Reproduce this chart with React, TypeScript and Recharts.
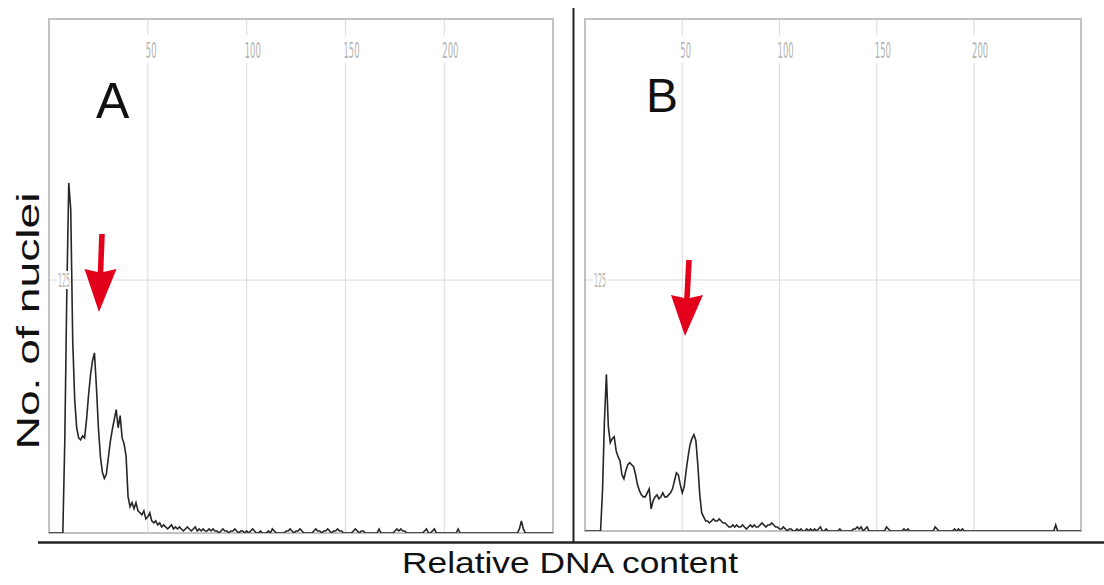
import React from 'react';
import { LineChart, Line, XAxis, YAxis, CartesianGrid, ReferenceArea } from 'recharts';

// flow cytometry histograms, 256 channels each
const channels = Array.from({ length: 256 }, (_, i) => i);

const countsA = [
  0, 0, 0, 0, 0, 0, 0, 0, 46, 118, 173, 160, 95, 66, 52, 47, 46, 48, 47, 56,
  68, 78, 85, 89, 72, 52, 38, 30, 27, 29, 37, 45, 51, 56, 61, 52, 58, 47, 44, 38,
  18, 13, 15, 12, 15, 11, 10, 9, 11, 7, 8, 10, 6, 5, 6, 4, 5, 3, 4, 3,
  2, 3, 4, 2, 3, 2, 3, 2, 1, 2, 3, 2, 1, 2, 3, 1, 2, 1, 2, 1,
  1, 2, 1, 2, 1, 1, 0, 1, 2, 1, 1, 0, 1, 1, 2, 1, 0, 1, 1, 0,
  1, 0, 1, 2, 1, 0, 0, 1, 0, 0, 0, 1, 0, 2, 1, 0, 0, 0, 0, 0,
  1, 1, 2, 1, 0, 1, 1, 2, 1, 0, 0, 0, 0, 0, 1, 2, 1, 1, 0, 1,
  1, 2, 1, 0, 1, 1, 2, 1, 1, 0, 0, 0, 0, 0, 1, 2, 1, 0, 1, 1,
  0, 0, 0, 0, 0, 0, 0, 2, 0, 0, 0, 0, 0, 0, 0, 1, 2, 1, 2, 1,
  1, 0, 0, 0, 0, 0, 0, 0, 0, 0, 1, 2, 0, 0, 1, 2, 0, 0, 0, 0,
  0, 0, 0, 0, 0, 0, 0, 2, 0, 0, 0, 0, 0, 0, 0, 0, 0, 0, 0, 0,
  0, 0, 0, 0, 0, 0, 0, 0, 0, 0, 0, 0, 0, 0, 0, 0, 0, 0, 2, 6,
  2, 0, 0, 0, 0, 0, 0, 0, 0, 0, 0, 0, 0, 0, 0, 0,
];

const countsB = [
  0, 0, 0, 0, 0, 0, 0, 0, 0, 20, 55, 78, 52, 44, 46, 47, 40, 37, 35, 28,
  26, 30, 33, 34, 33, 32, 28, 23, 20, 18, 17, 17, 19, 21, 11, 15, 17, 18, 16, 17,
  19, 17, 17, 18, 19, 21, 25, 29, 28, 23, 19, 22, 30, 37, 43, 46, 48, 45, 33, 18,
  9, 7, 5, 5, 4, 5, 6, 5, 5, 6, 5, 4, 4, 3, 2, 2, 3, 2, 3, 2,
  2, 3, 2, 1, 2, 3, 2, 3, 2, 2, 3, 4, 3, 2, 3, 3, 4, 3, 2, 2,
  1, 1, 2, 1, 0, 1, 1, 0, 0, 1, 0, 1, 0, 0, 1, 0, 1, 0, 1, 0,
  1, 2, 0, 0, 1, 0, 0, 0, 0, 0, 0, 1, 0, 0, 0, 0, 0, 0, 1, 1,
  2, 1, 2, 0, 1, 2, 0, 0, 0, 0, 0, 0, 0, 0, 0, 2, 1, 0, 0, 0,
  0, 0, 0, 0, 1, 0, 1, 0, 0, 0, 0, 0, 0, 0, 0, 0, 0, 0, 0, 0,
  2, 1, 0, 0, 0, 0, 0, 0, 0, 0, 1, 0, 1, 0, 1, 0, 0, 0, 0, 0,
  0, 0, 0, 0, 0, 0, 0, 0, 0, 0, 0, 0, 0, 0, 0, 0, 0, 0, 0, 0,
  0, 0, 0, 0, 0, 0, 0, 0, 0, 0, 0, 0, 0, 0, 0, 0, 0, 0, 0, 0,
  0, 0, 3, 0, 0, 0, 0, 0, 0, 0, 0, 0, 0, 0, 0, 0,
];

const xTicks = [50, 100, 150, 200];
const yTicks = [125];

const dataA = channels.map((ch, i) => ({ ch, n: countsA[i] }));
const dataB = channels.map((ch, i) => ({ ch, n: countsB[i] }));

const TopTick = ({ x, payload }: any) => {
  const label = String(payload.value);
  const w = label.length * 5.4;
  return (
    <g>
      <rect x={x - 3} y={18} width={w + 3} height={28} fill="#fff" />
      <text
        x={x - 2}
        y={41}
        fontSize={21}
        fill="#b4b4b4"
        fontFamily="DejaVu Sans"
        textLength={w}
        lengthAdjust="spacingAndGlyphs"
      >
        {label}
      </text>
    </g>
  );
};

const LeftTick = ({ y, payload }: any) => {
  const label = String(payload.value);
  return (
    <g>
      <rect x={10} y={y - 9} width={14} height={18} fill="#fff" />
      <text
        x={11}
        y={y + 7}
        fontSize={19}
        fill="#b4b4b4"
        fontFamily="DejaVu Sans"
        textLength={12}
        lengthAdjust="spacingAndGlyphs"
      >
        {label}
      </text>
    </g>
  );
};

const Panel = ({ data, width, height, yMax }: any) => (
  <LineChart width={width} height={height} data={data} margin={{ top: 1, right: 2, bottom: 2, left: 1 }}>
    <CartesianGrid stroke="#dadada" strokeWidth={1} />
    <XAxis
      dataKey="ch"
      type="number"
      domain={[0, 255]}
      ticks={xTicks}
      interval={0}
      orientation="top"
      height={1}
      axisLine={false}
      tickLine={false}
      tick={<TopTick />}
      allowDataOverflow
    />
    <YAxis
      type="number"
      domain={[0, yMax]}
      ticks={yTicks}
      interval={0}
      width={1}
      axisLine={false}
      tickLine={false}
      tick={<LeftTick />}
      allowDataOverflow
    />
    <ReferenceArea x1={0} x2={255} y1={0} y2={yMax} fill="none" stroke="#c2c2c2" strokeWidth={2} />
    <Line
      type="linear"
      dataKey="n"
      stroke="#262626"
      strokeWidth={1.6}
      dot={false}
      isAnimationActive={false}
    />
  </LineChart>
);

const arrow = (tx: number, ty: number, px: number, py: number, baseY: number, hw: number) => {
  const sw = 2.8;
  const bx = tx + ((px - tx) * (baseY - ty)) / (py - ty);
  return [
    [tx - sw, ty],
    [bx - sw, baseY],
    [bx - hw, baseY - 3],
    [px, py],
    [bx + hw, baseY - 3],
    [bx + sw, baseY],
    [tx + sw, ty],
  ]
    .map((p) => p.join(','))
    .join(' ');
};

export default function App() {
  return (
    <div style={{ position: 'absolute', left: 0, top: 0, width: 1104, height: 585, background: '#fff', overflow: 'hidden' }}>
      <div style={{ position: 'absolute', left: 47, top: 17 }}>
        <Panel data={dataA} width={508} height={518} yMax={254} />
      </div>
      <div style={{ position: 'absolute', left: 583, top: 17 }}>
        <Panel data={dataB} width={500} height={516} yMax={255} />
      </div>
      <svg width={1104} height={585} style={{ position: 'absolute', left: 0, top: 0, pointerEvents: 'none' }}>
        <line x1={38} y1={542.5} x2={1104} y2={542.5} stroke="#222" strokeWidth={2.5} />
        <line x1={573.5} y1={8} x2={573.5} y2={543} stroke="#222" strokeWidth={2} />
        <polygon points={arrow(102, 234, 99, 312, 272, 16)} fill="#e3001b" />
        <polygon points={arrow(689, 260, 685, 336, 298, 16)} fill="#e3001b" />
        <text x={96} y={118} fontSize={50} fontFamily="Liberation Sans, Arial, sans-serif" fill="#111">A</text>
        <text x={646} y={112} fontSize={48} fontFamily="Liberation Sans, Arial, sans-serif" fill="#111">B</text>
        <text
          x={402}
          y={573}
          fontSize={29}
          fontFamily="Liberation Sans, Arial, sans-serif"
          fill="#111"
          textLength={336}
          lengthAdjust="spacingAndGlyphs"
        >
          Relative DNA content
        </text>
        <text
          x={0}
          y={0}
          transform="translate(39,321) rotate(-90)"
          textAnchor="middle"
          fontSize={32}
          fontFamily="Liberation Sans, Arial, sans-serif"
          fill="#111"
          textLength={257}
          lengthAdjust="spacingAndGlyphs"
        >
          No. of nuclei
        </text>
      </svg>
    </div>
  );
}
